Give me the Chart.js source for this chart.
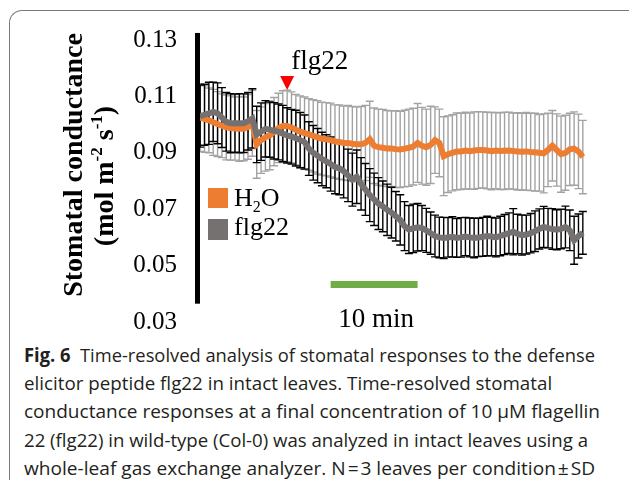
<!DOCTYPE html>
<html><head><meta charset="utf-8">
<script src="https://cdn.jsdelivr.net/npm/chart.js@4.4.0/dist/chart.umd.min.js"></script>
<style>
html,body{margin:0;padding:0;background:#fff;width:629px;height:481px;overflow:hidden;position:relative}
#frame{position:absolute;left:9px;top:10px;width:620px;height:470px;border-left:1.5px solid #7a7a7a;border-top:1.5px solid #7a7a7a;border-top-left-radius:13px;box-sizing:border-box}
#c{position:absolute;left:0;top:0;width:629px;height:340px}
.cap{position:absolute;left:24px;font-family:'Open Sans',sans-serif;font-size:19px;line-height:19px;color:#231f20;white-space:nowrap;transform-origin:0 0}
.cap b{font-weight:700}
</style></head><body>
<div id="frame"></div>
<canvas id="c" width="629" height="340"></canvas>
<div class="cap" style="top:346px"><b>Fig. 6</b>&nbsp; Time-resolved analysis of stomatal responses to the defense</div>
<div class="cap" style="top:374px">elicitor peptide flg22 in intact leaves. Time-resolved stomatal</div>
<div class="cap" style="top:402px">conductance responses at a final concentration of 10 μM flagellin</div>
<div class="cap" style="top:431px">22 (flg22) in wild-type (Col-0) was analyzed in intact leaves using a</div>
<div class="cap" style="top:459px">whole-leaf gas exchange analyzer. N&#8202;=&#8202;3 leaves per condition&#8202;±&#8202;SD</div>
<script>
// ---- data ----
const minutes = [0,0.5,1,1.5,2,2.5,3,3.5,4,4.5,5,5.5,6,6.5,7,7.5,8,8.5,9,9.5,10,10.5,11,11.5,12,12.5,13,13.5,14,14.5,15,15.5,16,16.5,17,17.5,18,18.5,19,19.5,20,20.5,21,21.5,22,22.5,23,23.5,24,24.5,25,25.5,26,26.5,27,27.5,28,28.5,29,29.5,30,30.5,31,31.5,32,32.5,33,33.5,34,34.5,35,35.5,36,36.5,37,37.5,38,38.5,39,39.5,40,40.5,41,41.5,42,42.5,43,43.5,44];
const h2oMean = [
0.1025,0.1020,0.1015,0.1008,0.1002,0.0996,0.0990,0.0988,0.0986,0.0985,
0.0985,0.0992,0.1005,0.0930,0.0945,0.0955,0.0962,0.0975,0.0988,0.0995,
0.0995,0.0990,0.0982,0.0975,0.0970,0.0965,0.0960,0.0955,0.0950,0.0948,
0.0945,0.0940,0.0938,0.0935,0.0935,0.0932,0.0930,0.0930,0.0935,0.0948,
0.0925,0.0920,0.0918,0.0915,0.0915,0.0913,0.0912,0.0915,0.0918,0.0922,
0.0935,0.0925,0.0920,0.0928,0.0945,0.0935,0.0888,0.0895,0.0900,0.0905,
0.0905,0.0908,0.0906,0.0908,0.0910,0.0910,0.0908,0.0906,0.0908,0.0906,
0.0907,0.0908,0.0906,0.0905,0.0904,0.0905,0.0903,0.0902,0.0900,0.0898,
0.0910,0.0925,0.0910,0.0895,0.0900,0.0912,0.0915,0.0905,0.0885];
const h2oSD = [
0.0120,0.0118,0.0115,0.0117,0.0115,0.0113,0.0115,0.0114,0.0112,0.0115,
0.0113,0.0115,0.0117,0.0120,0.0118,0.0120,0.0122,0.0121,0.0123,0.0125,
0.0127,0.0126,0.0125,0.0127,0.0128,0.0127,0.0128,0.0130,0.0129,0.0130,
0.0131,0.0130,0.0132,0.0131,0.0133,0.0132,0.0133,0.0134,0.0133,0.0135,
0.0134,0.0135,0.0136,0.0135,0.0134,0.0136,0.0135,0.0136,0.0137,0.0136,
0.0140,0.0136,0.0135,0.0137,0.0118,0.0120,0.0140,0.0136,0.0135,0.0136,
0.0135,0.0136,0.0135,0.0137,0.0136,0.0135,0.0136,0.0137,0.0135,0.0136,
0.0137,0.0136,0.0135,0.0137,0.0136,0.0138,0.0137,0.0138,0.0136,0.0140,
0.0130,0.0125,0.0128,0.0135,0.0133,0.0128,0.0130,0.0132,0.0130];
const flgMean = [
0.1030,0.1035,0.1040,0.1045,0.1040,0.1025,0.1010,0.1005,0.1005,0.1005,
0.1005,0.1012,0.1022,0.0965,0.0975,0.0985,0.0982,0.0978,0.0974,0.0968,
0.0962,0.0957,0.0952,0.0945,0.0938,0.0915,0.0900,0.0890,0.0878,0.0870,
0.0860,0.0850,0.0845,0.0835,0.0820,0.0805,0.0815,0.0790,0.0770,0.0750,
0.0735,0.0720,0.0710,0.0698,0.0688,0.0675,0.0662,0.0640,0.0628,0.0632,
0.0636,0.0633,0.0625,0.0615,0.0605,0.0600,0.0598,0.0600,0.0602,0.0598,
0.0600,0.0603,0.0600,0.0598,0.0600,0.0602,0.0605,0.0603,0.0600,0.0605,
0.0610,0.0615,0.0620,0.0612,0.0608,0.0610,0.0615,0.0622,0.0630,0.0637,
0.0633,0.0630,0.0627,0.0630,0.0637,0.0625,0.0590,0.0605,0.0616];
const flgSD = [
0.0110,0.0108,0.0110,0.0105,0.0108,0.0106,0.0104,0.0105,0.0103,0.0105,
0.0104,0.0102,0.0105,0.0100,0.0102,0.0100,0.0098,0.0100,0.0099,0.0100,
0.0098,0.0097,0.0099,0.0098,0.0096,0.0095,0.0097,0.0096,0.0095,0.0094,
0.0096,0.0095,0.0094,0.0095,0.0093,0.0094,0.0095,0.0093,0.0092,0.0094,
0.0093,0.0092,0.0090,0.0091,0.0090,0.0088,0.0089,0.0087,0.0085,0.0086,
0.0084,0.0080,0.0078,0.0075,0.0074,0.0072,0.0073,0.0070,0.0071,0.0069,
0.0070,0.0068,0.0069,0.0070,0.0068,0.0069,0.0070,0.0068,0.0069,0.0070,
0.0071,0.0072,0.0082,0.0070,0.0071,0.0069,0.0070,0.0072,0.0071,0.0073,
0.0070,0.0072,0.0071,0.0070,0.0074,0.0072,0.0085,0.0078,0.0076];
const yTicks = [0.03,0.05,0.07,0.09,0.11,0.13];
const flgAddTime = 10;          // minute when flg22 was added (arrow)
const scaleBar = [15, 25];      // 10 min scale bar

const SERIF = "'Liberation Serif','Times New Roman',serif";
const C_H2O = '#ED7D31', C_FLG = '#767171';

function drawRich(ctx, parts) {
  let w = 0;
  parts.forEach(p => { ctx.font = p.f; p.w = ctx.measureText(p.t).width; w += p.w; });
  let x = -w / 2;
  parts.forEach(p => { ctx.font = p.f; ctx.fillText(p.t, x, p.dy || 0); x += p.w; });
}

const deco = {
  id: 'deco',
  beforeDatasetsDraw(chart) {
    const ctx = chart.ctx, xs = chart.scales.x, ys = chart.scales.y;
    const bars = (mean, sd, color) => {
      ctx.save(); ctx.strokeStyle = color; ctx.lineWidth = 1.4;
      for (let i = 0; i < minutes.length; i++) {
        const x = xs.getPixelForValue(minutes[i]);
        const t = ys.getPixelForValue(mean[i] + sd[i]), b = ys.getPixelForValue(mean[i] - sd[i]);
        ctx.beginPath();
        ctx.moveTo(x, t); ctx.lineTo(x, b);
        ctx.moveTo(x - 4, t); ctx.lineTo(x + 4, t);
        ctx.moveTo(x - 4, b); ctx.lineTo(x + 4, b);
        ctx.stroke();
      }
      ctx.restore();
    };
    bars(h2oMean, h2oSD, '#a3a3a3');
    bars(flgMean, flgSD, '#000000');
  },
  afterDraw(chart) {
    const ctx = chart.ctx, xs = chart.scales.x, ys = chart.scales.y, ca = chart.chartArea;
    ctx.save();
    ctx.fillStyle = '#000';
    ctx.fillRect(ca.left - 3, ys.getPixelForValue(0.1325), 5, ys.getPixelForValue(0.0365) - ys.getPixelForValue(0.1325));
    ctx.fillStyle = '#000'; ctx.textBaseline = 'alphabetic';
    const fb = 'bold 28px ' + SERIF, fs = 'bold 17px ' + SERIF;
    ctx.save(); ctx.translate(82, 165); ctx.rotate(-Math.PI / 2);
    drawRich(ctx, [{t: 'Stomatal conductance', f: fb}]);
    ctx.restore();
    ctx.save(); ctx.translate(113, 176); ctx.rotate(-Math.PI / 2);
    drawRich(ctx, [{t: '(mol m', f: fb}, {t: '-2', f: fs, dy: -11}, {t: ' s', f: fb}, {t: '-1', f: fs, dy: -11}, {t: ')', f: fb}]);
    ctx.restore();
    ctx.fillStyle = C_H2O; ctx.fillRect(208, 188, 20, 20);
    ctx.fillStyle = C_FLG; ctx.fillRect(208, 219, 20, 21);
    ctx.fillStyle = '#000'; ctx.textAlign = 'left';
    ctx.font = '26px ' + SERIF; ctx.fillText('H', 234, 206);
    let hx = 234 + ctx.measureText('H').width;
    ctx.font = '16px ' + SERIF; ctx.fillText('2', hx, 212);
    hx += ctx.measureText('2').width;
    ctx.font = '26px ' + SERIF; ctx.fillText('O', hx, 206);
    ctx.fillText('flg22', 234, 235);
    const ax = xs.getPixelForValue(flgAddTime);
    ctx.fillStyle = '#ff0000';
    ctx.beginPath(); ctx.moveTo(ax - 7, 76); ctx.lineTo(ax + 7, 76); ctx.lineTo(ax, 90); ctx.closePath(); ctx.fill();
    ctx.fillStyle = '#000'; ctx.font = '27px ' + SERIF;
    ctx.fillText('flg22', ax + 4, 69);
    const x1 = xs.getPixelForValue(scaleBar[0]), x2 = xs.getPixelForValue(scaleBar[1]);
    ctx.fillStyle = '#70ad47'; ctx.fillRect(x1, 281, x2 - x1, 7);
    ctx.fillStyle = '#000'; ctx.textAlign = 'center'; ctx.font = '27px ' + SERIF;
    ctx.fillText('10 min', (x1 + x2) / 2 + 2, 327);
    ctx.restore();
  }
};

new Chart(document.getElementById('c'), {
  type: 'line',
  data: {
    datasets: [
      {label: 'H2O', order: 1, data: minutes.map((t, i) => ({x: t, y: h2oMean[i]})), borderColor: C_H2O, borderWidth: 6, pointRadius: 0, tension: 0, fill: false},
      {label: 'flg22', order: 0, data: minutes.map((t, i) => ({x: t, y: flgMean[i]})), borderColor: C_FLG, borderWidth: 6, pointRadius: 0, tension: 0, fill: false}
    ]
  },
  options: {
    responsive: false, maintainAspectRatio: false, animation: false, devicePixelRatio: 1,
    layout: {autoPadding: false, padding: {left: 0, top: 40, right: 44, bottom: 18}},
    plugins: {legend: {display: false}, tooltip: {enabled: false}},
    scales: {
      x: {type: 'linear', display: false, min: -0.25, max: 44.25},
      y: {
        min: 0.03, max: 0.13,
        afterBuildTicks: s => { s.ticks = yTicks.map(v => ({value: v})); },
        afterFit: s => { s.width = 198; },
        grid: {display: false, drawTicks: true, tickLength: 21}, border: {display: false},
        ticks: {padding: 0, color: '#000', font: {family: SERIF, size: 25, lineHeight: 1}, callback: v => Number(v).toFixed(2)}
      }
    }
  },
  plugins: [deco]
});

// caption lines: fit lines 1,3,4,5 to the reference widths; line 2 (ragged) uses their mean scale
const caps = Array.from(document.querySelectorAll('.cap'));
const capRight = [595, 497, 600, 588, 595];
const nat = caps.map(el => el.getBoundingClientRect().width);
const scales = caps.map((el, i) => (capRight[i] - 24) / nat[i]);
const meanSc = (scales[0] + scales[2] + scales[3] + scales[4]) / 4;
caps.forEach((el, i) => {
  el.style.transform = 'scaleX(' + (i === 1 ? meanSc : scales[i]) + ')';
});
</script>
</body></html>
